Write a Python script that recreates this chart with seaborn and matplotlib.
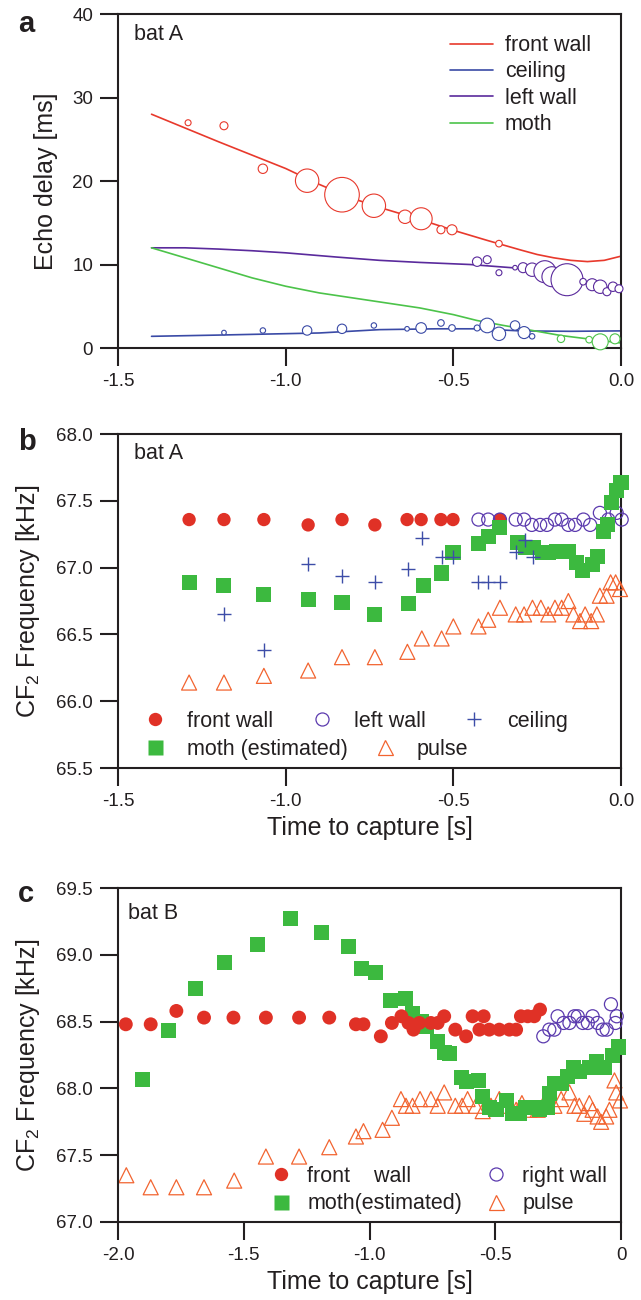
import numpy as np
import seaborn as sns
import matplotlib.pyplot as plt
from matplotlib.lines import Line2D

# ---------------- panel a: echo delay, bat A ----------------
# fitted tracks
front_fit_t = [-1.4, -1.2, -1.0, -0.9, -0.8, -0.7, -0.6, -0.5, -0.4, -0.3, -0.25, -0.2, -0.15,
               -0.1, -0.05, 0.0]
front_fit_ms = [28.0, 24.7, 21.5, 19.6, 17.9, 16.6, 15.4, 14.1, 12.9, 11.75, 11.2, 10.8, 10.5,
                10.35, 10.5, 11.0]
ceiling_fit_t = [-1.4, -1.2, -0.9, -0.72, -0.55, -0.43, -0.3, -0.15, 0.0]
ceiling_fit_ms = [1.4, 1.55, 1.8, 2.2, 2.3, 2.3, 2.05, 2.0, 2.05]
left_fit_t = [-1.4, -1.3, -1.2, -1.1, -1.0, -0.85, -0.72, -0.6, -0.45, -0.32, -0.25, -0.2,
              -0.16, -0.09, 0.0]
left_fit_ms = [12.0, 12.0, 11.85, 11.65, 11.4, 10.9, 10.5, 10.25, 10.0, 9.6, 9.2, 8.7,
               8.25, 7.6, 7.0]
moth_fit_t = [-1.4, -1.35, -1.3, -1.2, -1.1, -1.0, -0.9, -0.8, -0.7, -0.6, -0.5, -0.43,
              -0.35, -0.25, -0.18, -0.1, 0.0]
moth_fit_ms = [12.0, 11.4, 10.8, 9.6, 8.4, 7.4, 6.6, 6.0, 5.4, 4.8, 4.0, 3.3,
               2.7, 2.0, 1.5, 1.1, 0.6]

# measured echoes; amp = relative echo strength (circle radius)
front_t = [-1.291, -1.184, -1.068, -0.936, -0.832, -0.737, -0.644, -0.596, -0.537, -0.504, -0.364]
front_ms = [26.98, 26.62, 21.47, 20.04, 18.36, 17.04, 15.72, 15.48, 14.16, 14.16, 12.5]
front_amp = [3.0, 4.0, 4.7, 11.7, 17.3, 11.7, 6.7, 11.0, 4.0, 5.0, 3.3]
ceiling_t = [-1.184, -1.068, -0.936, -0.832, -0.737, -0.638, -0.596, -0.537, -0.504, -0.429,
             -0.399, -0.364, -0.316, -0.289, -0.265]
ceiling_ms = [1.85, 2.1, 2.1, 2.3, 2.7, 2.3, 2.4, 3.0, 2.4, 2.4, 2.7, 1.7, 2.7, 1.85, 1.4]
ceiling_amp = [2.3, 2.7, 4.7, 4.7, 2.7, 2.3, 5.3, 3.3, 3.3, 3.0, 7.3, 6.7, 4.7, 6.0, 2.7]
left_t = [-0.429, -0.399, -0.364, -0.316, -0.292, -0.265, -0.227, -0.206, -0.161, -0.113,
          -0.086, -0.062, -0.042, -0.024, -0.006]
left_ms = [10.34, 10.58, 9.02, 9.62, 9.62, 9.38, 9.14, 8.54, 8.18, 7.94, 7.58, 7.34, 6.74, 7.34, 7.1]
left_amp = [4.7, 4.0, 3.0, 2.3, 5.0, 6.7, 11.0, 10.0, 16.0, 3.3, 6.0, 6.7, 4.0, 4.7, 4.0]
moth_t = [-0.179, -0.095, -0.062, -0.018]
moth_ms = [1.1, 1.0, 0.74, 1.1]
moth_amp = [3.7, 3.3, 8.0, 5.0]

# ---------------- panel b: CF2 frequency, bat A ----------------
b_front_t = [-1.288, -1.184, -1.065, -0.933, -0.832, -0.734, -0.638, -0.596, -0.537, -0.501, -0.361]
b_front_f = [67.36, 67.36, 67.36, 67.32, 67.36, 67.32, 67.36, 67.36, 67.36, 67.36, 67.36]
b_left_t = [-0.425, -0.396, -0.361, -0.314, -0.289, -0.266, -0.241, -0.221, -0.197, -0.177,
            -0.157, -0.137, -0.112, -0.092, -0.063, -0.038, -0.013, 0.002]
b_left_f = [67.36, 67.36, 67.36, 67.36, 67.36, 67.32, 67.32, 67.32, 67.36, 67.36,
            67.32, 67.32, 67.36, 67.32, 67.41, 67.36, 67.41, 67.36]
b_ceiling_t = [-1.184, -1.065, -0.933, -0.832, -0.734, -0.635, -0.593, -0.534, -0.501,
               -0.426, -0.397, -0.361, -0.313, -0.286, -0.262]
b_ceiling_f = [66.65, 66.38, 67.03, 66.94, 66.89, 66.99, 67.22, 67.08, 67.08,
               66.89, 66.89, 66.89, 67.12, 67.21, 67.08]
b_moth_t = [-1.288, -1.184, -1.065, -0.933, -0.832, -0.734, -0.635, -0.590, -0.534, -0.501,
            -0.426, -0.394, -0.361, -0.310, -0.286, -0.262, -0.235, -0.215, -0.191, -0.158,
            -0.134, -0.116, -0.086, -0.071, -0.053, -0.039, -0.027, -0.012, 0.0]
b_moth_f = [66.89, 66.87, 66.80, 66.76, 66.74, 66.65, 66.73, 66.87, 66.96, 67.11,
            67.18, 67.23, 67.30, 67.19, 67.15, 67.15, 67.11, 67.11, 67.12, 67.12,
            67.04, 66.98, 67.02, 67.08, 67.27, 67.32, 67.49, 67.58, 67.64]
b_pulse_t = [-1.288, -1.184, -1.065, -0.933, -0.832, -0.734, -0.637, -0.594, -0.535, -0.500,
             -0.425, -0.396, -0.361, -0.314, -0.289, -0.264, -0.239, -0.217, -0.197, -0.177,
             -0.157, -0.142, -0.122, -0.107, -0.089, -0.072, -0.063, -0.043, -0.031, -0.016, -0.003]
b_pulse_f = [66.14, 66.14, 66.19, 66.23, 66.33, 66.33, 66.37, 66.47, 66.47, 66.56,
             66.56, 66.61, 66.70, 66.65, 66.65, 66.70, 66.70, 66.65, 66.70, 66.70,
             66.75, 66.65, 66.60, 66.65, 66.60, 66.65, 66.79, 66.79, 66.89, 66.89, 66.84]

# ---------------- panel c: CF2 frequency, bat B ----------------
c_front_t = [-1.969, -1.870, -1.768, -1.658, -1.541, -1.412, -1.280, -1.160, -1.054, -1.024,
             -0.955, -0.911, -0.873, -0.845, -0.825, -0.802, -0.756, -0.729, -0.703, -0.659,
             -0.616, -0.590, -0.563, -0.546, -0.524, -0.484, -0.444, -0.417, -0.398, -0.371,
             -0.345, -0.322]
c_front_f = [68.48, 68.48, 68.58, 68.53, 68.53, 68.53, 68.53, 68.53, 68.48, 68.48,
             68.39, 68.49, 68.54, 68.49, 68.44, 68.49, 68.49, 68.49, 68.54, 68.44,
             68.39, 68.54, 68.44, 68.54, 68.44, 68.44, 68.44, 68.44, 68.54, 68.54,
             68.54, 68.59]
c_right_t = [-0.309, -0.285, -0.265, -0.252, -0.228, -0.205, -0.185, -0.172, -0.152, -0.132,
             -0.113, -0.093, -0.073, -0.057, -0.040, -0.022, -0.017]
c_right_f = [68.39, 68.44, 68.44, 68.54, 68.49, 68.49, 68.54, 68.54, 68.49, 68.49,
             68.54, 68.49, 68.44, 68.44, 68.63, 68.49, 68.54]
c_moth_t = [-1.903, -1.800, -1.691, -1.577, -1.446, -1.313, -1.191, -1.084, -1.032, -0.977,
            -0.915, -0.855, -0.829, -0.795, -0.773, -0.729, -0.703, -0.683, -0.636, -0.616,
            -0.566, -0.550, -0.524, -0.497, -0.457, -0.431, -0.404, -0.380, -0.351, -0.325,
            -0.292, -0.285, -0.265, -0.238, -0.212, -0.189, -0.166, -0.126, -0.099, -0.066,
            -0.033, -0.009]
c_moth_f = [68.07, 68.43, 68.75, 68.94, 69.08, 69.27, 69.17, 69.06, 68.90, 68.87,
            68.66, 68.67, 68.56, 68.50, 68.46, 68.35, 68.27, 68.26, 68.08, 68.05,
            68.06, 67.94, 67.86, 67.84, 67.91, 67.81, 67.81, 67.86, 67.86, 67.84,
            67.86, 67.96, 68.04, 68.04, 68.09, 68.16, 68.13, 68.16, 68.20, 68.16,
            68.25, 68.31]
c_pulse_t = [-1.967, -1.870, -1.768, -1.658, -1.538, -1.412, -1.280, -1.160, -1.054, -1.024,
             -0.948, -0.911, -0.875, -0.855, -0.829, -0.799, -0.756, -0.729, -0.703, -0.659,
             -0.632, -0.610, -0.577, -0.550, -0.517, -0.484, -0.451, -0.417, -0.394, -0.364,
             -0.331, -0.298, -0.265, -0.238, -0.205, -0.185, -0.166, -0.146, -0.126, -0.113,
             -0.093, -0.079, -0.059, -0.046, -0.026, -0.019, -0.004]
c_pulse_f = [67.35, 67.26, 67.26, 67.26, 67.31, 67.49, 67.49, 67.56, 67.64, 67.68,
             67.69, 67.78, 67.92, 67.87, 67.87, 67.92, 67.92, 67.87, 67.97, 67.87,
             67.87, 67.92, 67.87, 67.83, 67.87, 67.92, 67.87, 67.84, 67.89, 67.84,
             67.84, 67.92, 67.87, 67.92, 67.97, 67.87, 67.87, 67.81, 67.89, 67.84,
             67.79, 67.75, 67.79, 67.84, 68.06, 67.97, 67.91]

# ---------------- style ----------------
sns.set_style("ticks")
plt.rcParams["font.family"] = ["Liberation Sans", "DejaVu Sans"]
plt.rcParams["mathtext.fontset"] = "custom"
plt.rcParams["mathtext.rm"] = "Liberation Sans"
plt.rcParams["mathtext.default"] = "regular"
INK = "#231F20"
plt.rcParams["text.color"] = INK
plt.rcParams["axes.labelcolor"] = INK
plt.rcParams["xtick.color"] = INK
plt.rcParams["ytick.color"] = INK

RED = "#E03126"
GREEN = "#3CB93F"
BLUE = "#3D4DA8"
PURPLE = "#5B3AAE"
ORANGE = "#F26430"
LINE_RED, LINE_BLUE, LINE_PURPLE, LINE_GREEN = "#E8392C", "#3A4AA6", "#5A2A9C", "#4CC34A"

TICK_FS = 13.5
LABEL_FS = 18
LEG_FS = 15.5


def area(radius_px):
    # circle radius in pixels -> scatter marker area in pt^2
    return (2 * np.asarray(radius_px) * 0.72) ** 2


def style_axes(ax):
    for sp in ax.spines.values():
        sp.set_visible(True)
        sp.set_linewidth(1.5)
        sp.set_color(INK)
    ax.tick_params(direction="out", length=13, width=1.5, pad=5, labelsize=TICK_FS)


fig = plt.figure(figsize=(6.41, 13.0), dpi=100)
L, W, H = 0.1841, 0.7847, 0.2569
ax_a = fig.add_axes([L, 0.7323, W, H])
ax_b = fig.add_axes([L, 0.4092, W, H])
ax_c = fig.add_axes([L, 0.0600, W, H])

# ---- panel a ----
fits = [(front_fit_t, front_fit_ms, LINE_RED), (ceiling_fit_t, ceiling_fit_ms, LINE_BLUE),
        (left_fit_t, left_fit_ms, LINE_PURPLE), (moth_fit_t, moth_fit_ms, LINE_GREEN)]
for tt, vv, col in fits:
    sns.lineplot(x=tt, y=vv, color=col, lw=1.2, ax=ax_a, zorder=2)
echoes = [(moth_t, moth_ms, moth_amp, LINE_GREEN), (ceiling_t, ceiling_ms, ceiling_amp, LINE_BLUE),
          (left_t, left_ms, left_amp, LINE_PURPLE), (front_t, front_ms, front_amp, LINE_RED)]
for tt, vv, amp, col in echoes:
    sns.scatterplot(x=tt, y=vv, s=area(amp), marker="o", facecolor="white", edgecolor=col,
                    linewidth=0.8, ax=ax_a, zorder=3, clip_on=False, legend=False)
ax_a.set_xlim(-1.5, 0)
ax_a.set_ylim(0, 40)
ax_a.set_xticks([-1.5, -1.0, -0.5, 0.0], ["-1.5", "-1.0", "-0.5", "0.0"])
ax_a.set_yticks([0, 10, 20, 30, 40])
ax_a.set_ylabel("Echo delay [ms]", fontsize=LABEL_FS, labelpad=10)
style_axes(ax_a)
ax_a.text(0.032, 0.94, "bat A", transform=ax_a.transAxes, fontsize=LEG_FS, va="center")
h_a = [Line2D([], [], color=c, lw=1.2) for c in [LINE_RED, LINE_BLUE, LINE_PURPLE, LINE_GREEN]]
ax_a.legend(h_a, ["front wall", "ceiling", "left wall", "moth"], loc="upper left",
            bbox_to_anchor=(0.66, 0.937), frameon=False, fontsize=LEG_FS, handlelength=2.0,
            handletextpad=0.55, labelspacing=0.25, borderpad=0, borderaxespad=0)

# ---- panel b ----
sns.scatterplot(x=b_front_t, y=b_front_f, marker="o", s=92, color=RED, edgecolor="none",
                ax=ax_b, zorder=2, clip_on=False, legend=False)
sns.scatterplot(x=b_left_t, y=b_left_f, marker="o", s=88, facecolor="none", edgecolor=PURPLE,
                linewidth=0.9, ax=ax_b, zorder=3, clip_on=False, legend=False)
sns.scatterplot(x=b_moth_t, y=b_moth_f, marker="s", s=117, color=GREEN, edgecolor="none",
                ax=ax_b, zorder=4, clip_on=False, legend=False)
sns.scatterplot(x=b_ceiling_t, y=b_ceiling_f, marker="+", s=88, color=BLUE, linewidth=1.0,
                ax=ax_b, zorder=5, clip_on=False, legend=False)
sns.scatterplot(x=b_pulse_t, y=b_pulse_f, marker="^", s=117, facecolor="none", edgecolor=ORANGE,
                linewidth=0.9, ax=ax_b, zorder=6, clip_on=False, legend=False)
ax_b.set_xlim(-1.5, 0)
ax_b.set_ylim(65.5, 68.0)
ax_b.set_xticks([-1.5, -1.0, -0.5, 0.0], ["-1.5", "-1.0", "-0.5", "0.0"])
ax_b.set_yticks([65.5, 66.0, 66.5, 67.0, 67.5, 68.0], ["65.5", "66.0", "66.5", "67.0", "67.5", "68.0"])
ax_b.set_ylabel("CF$_2$ Frequency [kHz]", fontsize=LABEL_FS, labelpad=10)
ax_b.set_xlabel("Time to capture [s]", fontsize=LABEL_FS, labelpad=4)
style_axes(ax_b)
ax_b.text(0.032, 0.943, "bat A", transform=ax_b.transAxes, fontsize=LEG_FS, va="center")

mk = dict(linestyle="none")
h_front = Line2D([], [], marker="o", ms=9.6, color=RED, mec="none", **mk)
h_left = Line2D([], [], marker="o", ms=9.4, mfc="none", mec=PURPLE, mew=0.9, **mk)
h_ceil = Line2D([], [], marker="+", ms=9.4, color=BLUE, mew=1.0, **mk)
h_moth = Line2D([], [], marker="s", ms=10.8, color=GREEN, mec="none", **mk)
h_pulse = Line2D([], [], marker="^", ms=10.8, mfc="none", mec=ORANGE, mew=0.9, **mk)
leg_common = dict(loc="upper left", frameon=False, fontsize=LEG_FS, handlelength=1.0,
                  handletextpad=1.0, borderpad=0, borderaxespad=0)
leg_b1 = ax_b.legend([h_front, h_left, h_ceil], ["front wall", "left wall", "ceiling"], ncol=3,
                     columnspacing=1.75, bbox_to_anchor=(0.052, 0.172), **leg_common)
ax_b.add_artist(leg_b1)
ax_b.legend([h_moth, h_pulse], ["moth (estimated)", "pulse"], ncol=2, columnspacing=1.2,
            bbox_to_anchor=(0.052, 0.087), **leg_common)

# ---- panel c ----
sns.scatterplot(x=c_pulse_t, y=c_pulse_f, marker="^", s=117, facecolor="none", edgecolor=ORANGE,
                linewidth=0.9, ax=ax_c, zorder=2, clip_on=False, legend=False)
sns.scatterplot(x=c_moth_t, y=c_moth_f, marker="s", s=117, color=GREEN, edgecolor="none",
                ax=ax_c, zorder=3, clip_on=False, legend=False)
sns.scatterplot(x=c_front_t, y=c_front_f, marker="o", s=100, color=RED, edgecolor="none",
                ax=ax_c, zorder=4, clip_on=False, legend=False)
sns.scatterplot(x=c_right_t, y=c_right_f, marker="o", s=88, facecolor="none", edgecolor=PURPLE,
                linewidth=0.9, ax=ax_c, zorder=5, clip_on=False, legend=False)
ax_c.set_xlim(-2.0, 0)
ax_c.set_ylim(67.0, 69.5)
ax_c.set_xticks([-2.0, -1.5, -1.0, -0.5, 0.0], ["-2.0", "-1.5", "-1.0", "-0.5", "0"])
ax_c.set_yticks([67.0, 67.5, 68.0, 68.5, 69.0, 69.5], ["67.0", "67.5", "68.0", "68.5", "69.0", "69.5"])
ax_c.set_ylabel("CF$_2$ Frequency [kHz]", fontsize=LABEL_FS, labelpad=10)
ax_c.set_xlabel("Time to capture [s]", fontsize=LABEL_FS, labelpad=4)
style_axes(ax_c)
ax_c.text(0.02, 0.925, "bat B", transform=ax_c.transAxes, fontsize=LEG_FS, va="center")
h_right = Line2D([], [], marker="o", ms=9.4, mfc="none", mec=PURPLE, mew=0.9, **mk)
ax_c.legend([h_front, h_moth, h_right, h_pulse],
            ["front    wall", "moth(estimated)", "right wall", "pulse"], ncol=2,
            columnspacing=1.05, labelspacing=0.3, handletextpad=0.74,
            bbox_to_anchor=(0.302, 0.168), loc="upper left", frameon=False, fontsize=LEG_FS,
            handlelength=1.0, borderpad=0, borderaxespad=0)

# panel letters
for letter, y_px in [("a", 32), ("b", 450), ("c", 902)]:
    fig.text(18 / 641, 1 - y_px / 1300, letter, fontsize=21, fontweight="bold", ha="left", va="baseline")

fig.savefig("out.png", dpi=100)
